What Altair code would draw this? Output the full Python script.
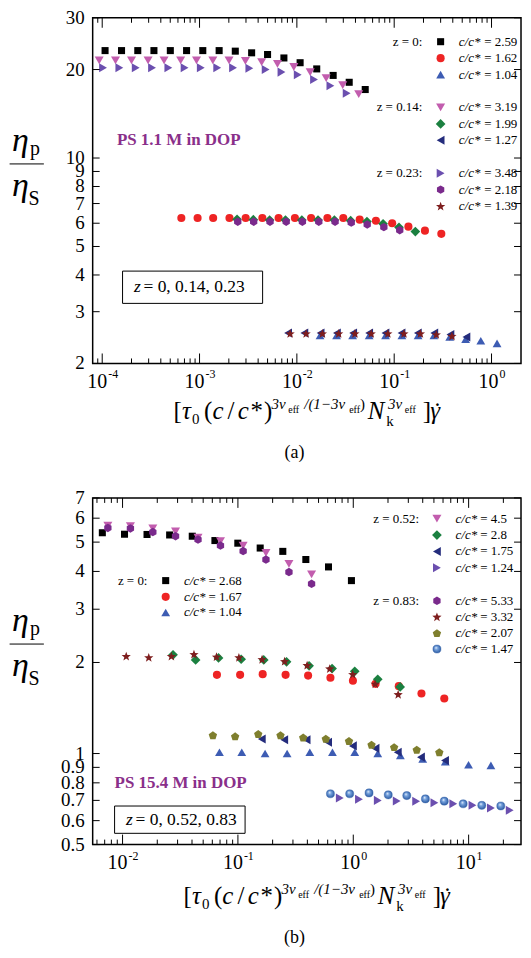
import math
import altair as alt
import pandas as pd

FONT = "Liberation Serif"

# ---------------- Panel (a): PS 1.1 M in DOP ----------------
a_sq_x = [1.07e-4, 1.58e-4, 2.32e-4, 3.40e-4, 5.01e-4, 7.36e-4, 1.08e-3, 1.59e-3, 2.33e-3, 3.43e-3,
          5.00e-3, 7.36e-3, 1.08e-2, 1.60e-2, 2.36e-2, 3.45e-2, 5.04e-2]
a_sq_y = [23.2, 23.2, 23.2, 23.2, 23.2, 23.2, 23.2, 23.2, 23.1, 22.8, 22.5, 21.9, 21.1, 20.1, 19.1, 18.1, 17.1]

a_ci_x = [6.50e-4, 9.55e-4, 1.38e-3, 2.03e-3, 2.98e-3, 4.42e-3, 6.49e-3, 9.55e-3, 1.40e-2, 2.06e-2,
          3.00e-2, 4.42e-2, 6.49e-2, 9.53e-2, 0.140, 0.207, 0.305]
a_ci_y = [6.25, 6.25, 6.25, 6.25, 6.25, 6.25, 6.25, 6.25, 6.25, 6.25, 6.25, 6.17, 6.12, 6.00, 5.84, 5.66, 5.52]

a_tr_x = [0.0173, 0.0256, 0.0374, 0.0553, 0.0815, 0.120, 0.176, 0.256, 0.372, 0.542, 0.776, 1.14]
a_tr_y = [2.49, 2.49, 2.49, 2.49, 2.49, 2.49, 2.49, 2.49, 2.46, 2.42, 2.39, 2.34]

a_iv_x = [9.31e-5, 1.37e-4, 2.00e-4, 2.96e-4, 4.32e-4, 6.40e-4, 9.31e-4, 1.37e-3, 2.01e-3, 2.96e-3,
          4.35e-3, 6.32e-3, 9.31e-3, 1.37e-2, 2.00e-2, 2.96e-2, 4.32e-2]
a_iv_y = [21.5, 21.5, 21.5, 21.5, 21.5, 21.5, 21.5, 21.5, 21.5, 21.4, 21.2, 20.9, 20.4, 19.6, 18.7, 17.7, 16.5]

a_di_x = [2.43e-3, 3.57e-3, 5.25e-3, 7.64e-3, 1.125e-2, 1.65e-2, 2.43e-2, 3.57e-2, 5.25e-2, 7.69e-2, 0.112, 0.165]
a_di_y = [6.19, 6.17, 6.15, 6.15, 6.15, 6.15, 6.15, 6.12, 6.08, 5.97, 5.81, 5.62]

a_lt_x = [8.13e-3, 1.194e-2, 1.754e-2, 2.58e-2, 3.79e-2, 5.53e-2, 8.13e-2, 0.119, 0.175, 0.258, 0.378, 0.552]
a_lt_y = [2.54, 2.54, 2.54, 2.54, 2.54, 2.54, 2.54, 2.54, 2.54, 2.54, 2.51, 2.46]

a_rt_x = [1.02e-4, 1.50e-4, 2.21e-4, 3.25e-4, 4.78e-4, 7.02e-4, 1.03e-3, 1.52e-3, 2.21e-3, 3.25e-3,
          4.78e-3, 6.95e-3, 1.02e-2, 1.50e-2, 2.21e-2, 3.25e-2]
a_rt_y = [20.3, 20.3, 20.3, 20.3, 20.3, 20.3, 20.3, 20.3, 20.3, 20.2, 20.0, 19.6, 19.2, 18.5, 17.6, 16.6]

a_hx_x = [2.47e-3, 3.60e-3, 5.30e-3, 7.77e-3, 1.14e-2, 1.68e-2, 2.47e-2, 3.62e-2, 5.28e-2, 7.83e-2, 0.114]
a_hx_y = [6.07, 6.07, 6.07, 6.07, 6.07, 6.07, 6.07, 6.03, 5.94, 5.82, 5.68]

a_st_x = [8.53e-3, 1.245e-2, 1.83e-2, 2.69e-2, 3.95e-2, 5.81e-2, 8.61e-2, 0.126, 0.186, 0.271, 0.392]
a_st_y = [2.53, 2.53, 2.53, 2.53, 2.53, 2.53, 2.53, 2.53, 2.53, 2.51, 2.48]

# ---------------- Panel (b): PS 15.4 M in DOP ----------------
b_sq_x = [0.00668, 0.0104, 0.0163, 0.0256, 0.0402, 0.0632, 0.0998, 0.156, 0.245, 0.388, 0.610, 0.964]
b_sq_y = [5.37, 5.31, 5.30, 5.28, 5.23, 5.06, 4.96, 4.78, 4.66, 4.38, 4.14, 3.73]

b_ci_x = [0.0658, 0.1045, 0.164, 0.259, 0.406, 0.634, 0.993, 1.56, 2.48, 3.90, 6.15]
b_ci_y = [1.82, 1.82, 1.83, 1.82, 1.81, 1.78, 1.74, 1.70, 1.67, 1.58, 1.52]

b_tr_x = [0.0692, 0.108, 0.172, 0.267, 0.420, 0.660, 1.03, 1.63, 2.56, 4.00, 6.28, 9.98, 15.6]
b_tr_y = [1.01, 1.01, 1.00, 1.00, 1.01, 1.01, 1.01, 1.00, 0.986, 0.96, 0.94, 0.918, 0.914]

b_iv_x = [0.00746, 0.0117, 0.0183, 0.0288, 0.0451, 0.0706, 0.111, 0.175, 0.277, 0.435]
b_iv_y = [5.67, 5.65, 5.55, 5.42, 5.17, 5.04, 4.87, 4.61, 4.24, 3.91]

b_di_x = [0.0274, 0.0430, 0.0679, 0.1067, 0.1675, 0.264, 0.414, 0.655, 1.03, 1.63, 2.55]
b_di_y = [2.12, 2.04, 2.07, 2.05, 2.04, 2.01, 1.95, 1.91, 1.87, 1.76, 1.66]

b_lt_x = [0.161, 0.252, 0.394, 0.605, 0.993, 1.56, 2.43, 3.86, 6.24]
b_lt_y = [1.117, 1.11, 1.11, 1.09, 1.06, 1.04, 1.01, 0.973, 0.949]

b_rt_x = [0.764, 1.12, 1.63, 2.38, 3.51, 5.05, 7.36, 10.8, 15.6, 22.7]
b_rt_y = [0.713, 0.706, 0.700, 0.697, 0.695, 0.687, 0.682, 0.674, 0.661, 0.649]

b_hx_x = [0.00746, 0.0117, 0.0183, 0.0288, 0.0451, 0.0706, 0.111, 0.175, 0.277, 0.435]
b_hx_y = [5.57, 5.55, 5.40, 5.23, 5.10, 4.87, 4.67, 4.38, 3.98, 3.64]

b_st_x = [0.01076, 0.01687, 0.0265, 0.0416, 0.0652, 0.102, 0.162, 0.254, 0.398, 0.625, 0.989, 1.55, 2.45]
b_st_y = [2.10, 2.08, 2.10, 2.13, 2.09, 2.08, 2.05, 2.02, 1.96, 1.91, 1.83, 1.70, 1.57]

b_pe_x = [0.0607, 0.0946, 0.150, 0.234, 0.368, 0.578, 0.918, 1.44, 2.26, 3.55, 5.57]
b_pe_y = [1.15, 1.14, 1.16, 1.15, 1.13, 1.12, 1.10, 1.07, 1.05, 1.03, 1.01]

b_sp_x = [0.634, 0.931, 1.37, 2.01, 2.91, 4.22, 6.15, 8.97, 13.0, 19.0]
b_sp_y = [0.736, 0.736, 0.741, 0.730, 0.726, 0.708, 0.696, 0.682, 0.674, 0.671]

# tick labels
a_ytick_vals = [2, 3, 4, 5, 6, 7, 8, 9, 10, 20, 30]
a_ytick_text = ["2", "3", "4", "5", "6", "7", "8", "9", "10", "20", "30"]
b_ytick_vals = [0.5, 0.6, 0.7, 0.8, 0.9, 1, 2, 3, 4, 5, 6, 7]
b_ytick_text = ["0.5", "0.6", "0.7", "0.8", "0.9", "1", "2", "3", "4", "5", "6", "7"]
a_xexp = [-4, -3, -2, -1, 0]
b_xexp = [-2, -1, 0, 1]


# ---------------- marker styles ----------------
def star_path(inner=0.42):
    pts = []
    for i in range(10):
        r = 1.0 if i % 2 == 0 else inner
        a = math.radians(-90 + 36 * i)
        pts.append((r * math.cos(a), r * math.sin(a) + 0.1))
    return "M" + " L".join(f"{x:.3f},{y:.3f}" for x, y in pts) + " Z"


def poly_path(n, rot=-90, dy=0.0):
    pts = []
    for i in range(n):
        a = math.radians(rot + 360 * i / n)
        pts.append((math.cos(a), math.sin(a) + dy))
    return "M" + " L".join(f"{x:.3f},{y:.3f}" for x, y in pts) + " Z"


SPHERE = alt.Gradient(
    gradient="radial",
    stops=[alt.GradientStop(offset=0, color="#ffffff"),
           alt.GradientStop(offset=0.3, color="#7aa6e0"),
           alt.GradientStop(offset=1, color="#1c4c96")],
    x1=0.38, y1=0.32, r1=0.0, x2=0.5, y2=0.5, r2=0.6)

STY = {
    "sq": dict(shape="square", color="#000000", size=50),
    "ci": dict(shape="circle", color="#ee2424", size=66),
    "tr": dict(shape="triangle-up", color="#3d5cb3", size=78),
    "iv": dict(shape="triangle-down", color="#c25dae", size=82),
    "di": dict(shape="diamond", color="#1b8040", size=95),
    "lt": dict(shape="triangle-left", color="#242c7c", size=82),
    "rt": dict(shape="triangle-right", color="#6b4faf", size=82),
    "hx": dict(shape=poly_path(6), color="#7a2a8c", size=72),
    "st": dict(shape=star_path(), color="#7e1e1e", size=95),
    "pe": dict(shape=poly_path(5, dy=0.1), color="#7f7f2e", size=78),
    "sp": dict(shape="circle", color="#2f67b5", size=66, grad=True),
}

ONE = pd.DataFrame({"a": [0]})


def point_mark(key):
    s = STY[key]
    kw = dict(shape=s["shape"], size=s["size"], filled=True, opacity=1)
    if s.get("grad"):
        kw.update(fill=SPHERE, stroke="#2a5aa6", strokeWidth=0.4)
    else:
        kw.update(color=s["color"], strokeWidth=0)
    return kw


def txt(s, x, y, size, italic=False, bold=False, align="left", baseline="alphabetic", color="black"):
    return alt.Chart(ONE).mark_text(
        text=s, font=FONT, fontSize=size, fontStyle="italic" if italic else "normal",
        fontWeight="bold" if bold else "normal", align=align, baseline=baseline, color=color
    ).encode(x=alt.value(x), y=alt.value(y))


def make_panel(series, xdom, ydom, W, H, yv, yt, xexp, legends, annot, box, xt_dx, xt_base, caption, cap_y):
    xs = alt.Scale(type="log", domain=xdom)
    ys = alt.Scale(type="log", domain=ydom)
    L = []

    # data marks
    for key, xv, yvv in series:
        df = pd.DataFrame({"x": xv, "y": yvv})
        L.append(alt.Chart(df).mark_point(**point_mark(key)).encode(
            x=alt.X("x:Q", scale=xs, axis=None), y=alt.Y("y:Q", scale=ys, axis=None)))

    # x ticks (inward, bottom and top)
    lo, hi = math.log10(xdom[0]), math.log10(xdom[1])
    maj, mnr = [], []
    for k in range(math.floor(lo), math.ceil(hi) + 1):
        for m in range(1, 10):
            v = m * 10.0 ** k
            if xdom[0] * 1.01 < v < xdom[1] / 1.01:
                (maj if m == 1 else mnr).append(v)
    for vals, ln in ((maj, 10), (mnr, 5)):
        df = pd.DataFrame({"t": vals})
        L.append(alt.Chart(df).mark_rule(color="black", strokeWidth=1).encode(
            x=alt.X("t:Q", scale=xs, axis=None), y=alt.value(H), y2=alt.value(H - ln)))
        L.append(alt.Chart(df).mark_rule(color="black", strokeWidth=1).encode(
            x=alt.X("t:Q", scale=xs, axis=None), y=alt.value(0), y2=alt.value(ln)))
    # y ticks (inward, left and right) and labels
    dfy = pd.DataFrame({"v": yv, "t": yt})
    L.append(alt.Chart(dfy).mark_rule(color="black", strokeWidth=1).encode(
        y=alt.Y("v:Q", scale=ys, axis=None), x=alt.value(0), x2=alt.value(7)))
    L.append(alt.Chart(dfy).mark_rule(color="black", strokeWidth=1).encode(
        y=alt.Y("v:Q", scale=ys, axis=None), x=alt.value(W - 7), x2=alt.value(W)))
    L.append(alt.Chart(dfy).mark_text(font=FONT, fontSize=19, align="right", baseline="middle").encode(
        y=alt.Y("v:Q", scale=ys, axis=None), x=alt.value(-8), text="t:N"))
    # x tick labels 10^e
    dfx = pd.DataFrame({"t": [10.0 ** e for e in xexp], "e": [str(e) for e in xexp],
                        "neg": [e < 0 for e in xexp]})
    for neg, dxb in ((True, 5), (False, 7)):
        sub = dfx[dfx["neg"] == neg]
        if len(sub) == 0:
            continue
        L.append(alt.Chart(sub).mark_text(font=FONT, fontSize=20, align="right", baseline="middle", dx=dxb).encode(
            x=alt.X("t:Q", scale=xs, axis=None), y=alt.value(H + 19), text=alt.value("10")))
        L.append(alt.Chart(sub).mark_text(font=FONT, fontSize=12, align="left", baseline="middle", dx=dxb + 1).encode(
            x=alt.X("t:Q", scale=xs, axis=None), y=alt.value(H + 11), text="e:N"))

    # y-axis title: eta_p / eta_S
    L.append(txt("η", -81, 133.6, 34, italic=True))
    L.append(txt("p", -63, 137.3, 20))
    L.append(alt.Chart(ONE).mark_rule(color="black", strokeWidth=1).encode(
        x=alt.value(-83.4), x2=alt.value(-49), y=alt.value(146.7)))
    L.append(txt("η", -81, 178.6, 34, italic=True))
    L.append(txt("S", -64.5, 188.3, 20))

    # x-axis title pieces
    mb = H + xt_base
    pieces = [
        ("[", 81.2, 0, 25, False), ("τ", 89.7, 0, 25, True), ("0", 99.8, 5, 15, False),
        ("(", 111.7, 0, 25, False), ("c", 120.2, 0, 25, True), ("/", 135.3, 0, 25, False),
        ("c", 145.6, 0, 25, True), ("*", 158.5, 0, 25, False), (")", 172.0, 0, 25, False),
        ("3ν", 179.5, -10, 15, True), ("eff", 196.3, -6, 10, False),
        ("/(1−3ν", 212.4, -10, 15, True), ("eff", 257.5, -6, 10, False), (")", 268.3, -10, 15, False),
        ("N", 276.1, 0, 25, True), ("k", 294.8, 7, 15, False),
        ("3ν", 296.5, -10, 15, True), ("eff", 313.4, -6, 10, False),
        ("]", 331.3, 0, 25, False), ("γ", 338.8, 0, 25, True), ("˙", 342.0, 1, 25, False),
    ]
    for s, px, dy, fs, it in pieces:
        L.append(txt(s, px + xt_dx, mb + dy, fs, italic=it))

    # caption
    L.append(txt(caption, 202.6, H + cap_y, 18, align="center", baseline="middle"))

    # legends
    for lab, lx, mx, cx, ex, rows in legends:
        for i, (key, val, ry) in enumerate(rows):
            if i == 0:
                L.append(txt(lab, lx, ry, 13, align="right", baseline="middle"))
            L.append(alt.Chart(ONE).mark_point(**point_mark(key)).encode(x=alt.value(mx), y=alt.value(ry)))
            L.append(txt("c/c*", cx, ry, 13, italic=True, baseline="middle"))
            L.append(txt("= " + val, ex, ry, 13, baseline="middle"))

    # annotation
    at, ax, ay = annot
    L.append(txt(at, ax, ay, 17, bold=True, baseline="middle", color="#8a2f8a"))

    # boxed label
    btxt, bx1, bx2, by1, by2 = box
    L.append(alt.Chart(ONE).mark_rect(fill="white", stroke="black", strokeWidth=1).encode(
        x=alt.value(bx1), x2=alt.value(bx2), y=alt.value(by1), y2=alt.value(by2)))
    L.append(txt("z", bx1 + 11.5, (by1 + by2) / 2, 17.5, italic=True, baseline="middle"))
    L.append(txt(btxt, bx1 + 21, (by1 + by2) / 2, 17.5, baseline="middle"))

    return alt.layer(*L).properties(width=W, height=H)


W = 430
HA = 347
HB = 348

series_a = [
    ("sq", a_sq_x, a_sq_y), ("ci", a_ci_x, a_ci_y), ("tr", a_tr_x, a_tr_y),
    ("iv", a_iv_x, a_iv_y), ("di", a_di_x, a_di_y), ("lt", a_lt_x, a_lt_y),
    ("rt", a_rt_x, a_rt_y), ("hx", a_hx_x, a_hx_y), ("st", a_st_x, a_st_y),
]
series_b = [
    ("sq", b_sq_x, b_sq_y), ("ci", b_ci_x, b_ci_y), ("tr", b_tr_x, b_tr_y),
    ("iv", b_iv_x, b_iv_y), ("di", b_di_x, b_di_y), ("lt", b_lt_x, b_lt_y), ("rt", b_rt_x, b_rt_y),
    ("hx", b_hx_x, b_hx_y), ("st", b_st_x, b_st_y), ("pe", b_pe_x, b_pe_y), ("sp", b_sp_x, b_sp_y),
]

leg_a = [
    ("z = 0:", 331, 349.3, 367.6, 393, [("sq", "2.59", 24), ("ci", "1.62", 40.5), ("tr", "1.04", 57)]),
    ("z = 0.14:", 331, 349.3, 367.6, 393, [("iv", "3.19", 90), ("di", "1.99", 106.5), ("lt", "1.27", 123)]),
    ("z = 0.23:", 331, 349.3, 367.6, 393, [("rt", "3.48", 156), ("hx", "2.18", 172.5), ("st", "1.39", 189)]),
]
leg_b = [
    ("z = 0.52:", 327.6, 345.6, 364.3, 389,
     [("iv", "4.5", 20.7), ("di", "2.8", 37.3), ("lt", "1.75", 53.7), ("rt", "1.24", 70)]),
    ("z = 0.83:", 327.6, 345.6, 364.3, 389,
     [("hx", "5.33", 103.3), ("st", "3.32", 119.3), ("pe", "2.07", 135.7), ("sp", "1.47", 151.7)]),
    ("z = 0:", 55, 73.3, 91.6, 116.3, [("sq", "2.68", 83), ("ci", "1.67", 99.3), ("tr", "1.04", 115)]),
]

pa = make_panel(series_a, [10 ** -4.098, 10 ** 0.303], [2, 30], W, HA,
                a_ytick_vals, a_ytick_text, a_xexp, leg_a,
                ("PS 1.1 M in DOP", 24.3, 122.7),
                ("= 0, 0.14, 0.23", 30, 170.6, 254.3, 286.7),
                0, 56, "(a)", 90)
pb = make_panel(series_b, [10 ** -2.259, 10 ** 1.454], [0.5, 7], W, HB,
                b_ytick_vals, b_ytick_text, b_xexp, leg_b,
                ("PS 15.4 M in DOP", 22, 286.7),
                ("= 0, 0.52, 0.83", 22, 153, 309.3, 336.7),
                10, 59.3, "(b)", 93.3)

chart = alt.vconcat(pa, pb, spacing=25).resolve_scale(
    x="independent", y="independent"
).configure_view(stroke="black", strokeWidth=1.5).properties(
    padding={"left": 0, "top": -2, "right": 0, "bottom": 0}, background="white"
)

chart.save("out.html", embed_options={"renderer": "svg", "actions": False})
